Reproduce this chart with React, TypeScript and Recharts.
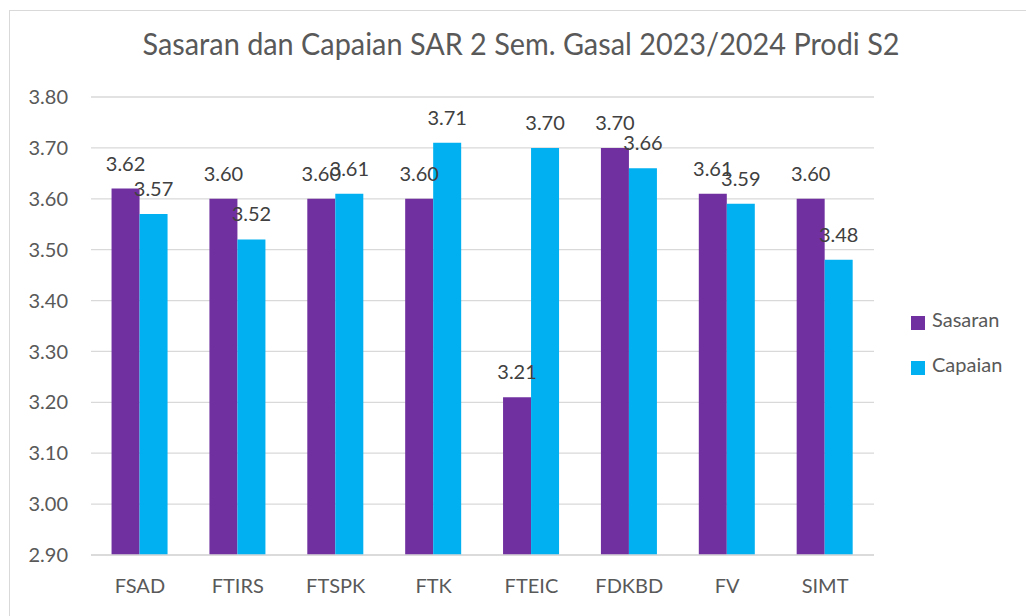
import React from "react";
import { BarChart, Bar, XAxis, YAxis, CartesianGrid, Legend, LabelList } from "recharts";

const categories = ["FSAD", "FTIRS", "FTSPK", "FTK", "FTEIC", "FDKBD", "FV", "SIMT"];
const sasaran = [3.62, 3.6, 3.6, 3.6, 3.21, 3.7, 3.61, 3.6];
const capaian = [3.57, 3.52, 3.61, 3.71, 3.7, 3.66, 3.59, 3.48];
const yTicks = [2.9, 3.0, 3.1, 3.2, 3.3, 3.4, 3.5, 3.6, 3.7, 3.8];
const seriesOrder = ["Sasaran", "Capaian"];
const title = "Sasaran dan Capaian SAR 2 Sem. Gasal 2023/2024 Prodi S2";

const data = categories.map((c, i) => ({ name: c, Sasaran: sasaran[i], Capaian: capaian[i] }));

const FONT = "Lato, 'Open Sans', sans-serif";
const fmt = (v: any) => Number(v).toFixed(2);

export default function App() {
  return (
    <div
      style={{
        position: "fixed",
        left: 0,
        top: 0,
        width: 1026,
        height: 616,
        overflow: "hidden",
        background: "#fff",
        fontFamily: FONT,
      }}
    >
      <div
        style={{
          position: "absolute",
          left: 9,
          top: 10,
          width: 1200,
          height: 800,
          border: "1px solid #d9d9d9",
          boxSizing: "border-box",
        }}
      />
      <svg style={{ position: "absolute", left: 0, top: 0 }} width={1026} height={80}>
        <text
          x={521}
          y={55}
          textAnchor="middle"
          fontFamily={FONT}
          fontSize={30}
          fill="#595959"
          textLength={757}
          lengthAdjust="spacingAndGlyphs"
        >
          {title}
        </text>
      </svg>
      <div style={{ position: "absolute", left: 0, top: 0 }}>
        <BarChart
          width={1026}
          height={616}
          data={data}
          margin={{ top: 97, right: 32, bottom: 11, left: 0 }}
          barCategoryGap="21%"
          barGap={0}
        >
          <CartesianGrid vertical={false} stroke="#d9d9d9" strokeWidth={1.3} />
          <XAxis
            dataKey="name"
            height={50}
            axisLine={{ stroke: "#d9d9d9", strokeWidth: 1.3 }}
            tickLine={false}
            tickSize={0}
            tickMargin={24}
            tick={{ fill: "#595959", fontSize: 20, fontFamily: FONT }}
            interval={0}
          />
          <YAxis
            width={91}
            domain={[2.9, 3.8]}
            ticks={yTicks}
            allowDataOverflow
            axisLine={false}
            tickLine={false}
            tickSize={0}
            tickMargin={23}
            tickFormatter={fmt}
            tick={{ fill: "#595959", fontSize: 20, fontFamily: FONT }}
          />
          <Legend
            layout="vertical"
            verticalAlign="top"
            align="right"
            iconType="square"
            iconSize={14}
            itemSorter={(item: any) => seriesOrder.indexOf(item.value)}
            wrapperStyle={{ position: "absolute", left: 911, top: 297, width: 120 }}
            formatter={(value: any) => (
              <span
                style={{
                  color: "#595959",
                  fontSize: 20,
                  fontFamily: FONT,
                  lineHeight: "45px",
                  marginLeft: 3,
                }}
              >
                {value}
              </span>
            )}
          />
          <Bar dataKey="Sasaran" fill="#7030A0" isAnimationActive={false}>
            <LabelList
              dataKey="Sasaran"
              position="top"
              offset={18}
              formatter={fmt}
              style={{ fill: "#404040", fontSize: 20, fontFamily: FONT }}
            />
          </Bar>
          <Bar dataKey="Capaian" fill="#00B0F0" isAnimationActive={false}>
            <LabelList
              dataKey="Capaian"
              position="top"
              offset={18}
              formatter={fmt}
              style={{ fill: "#404040", fontSize: 20, fontFamily: FONT }}
            />
          </Bar>
        </BarChart>
      </div>
    </div>
  );
}
